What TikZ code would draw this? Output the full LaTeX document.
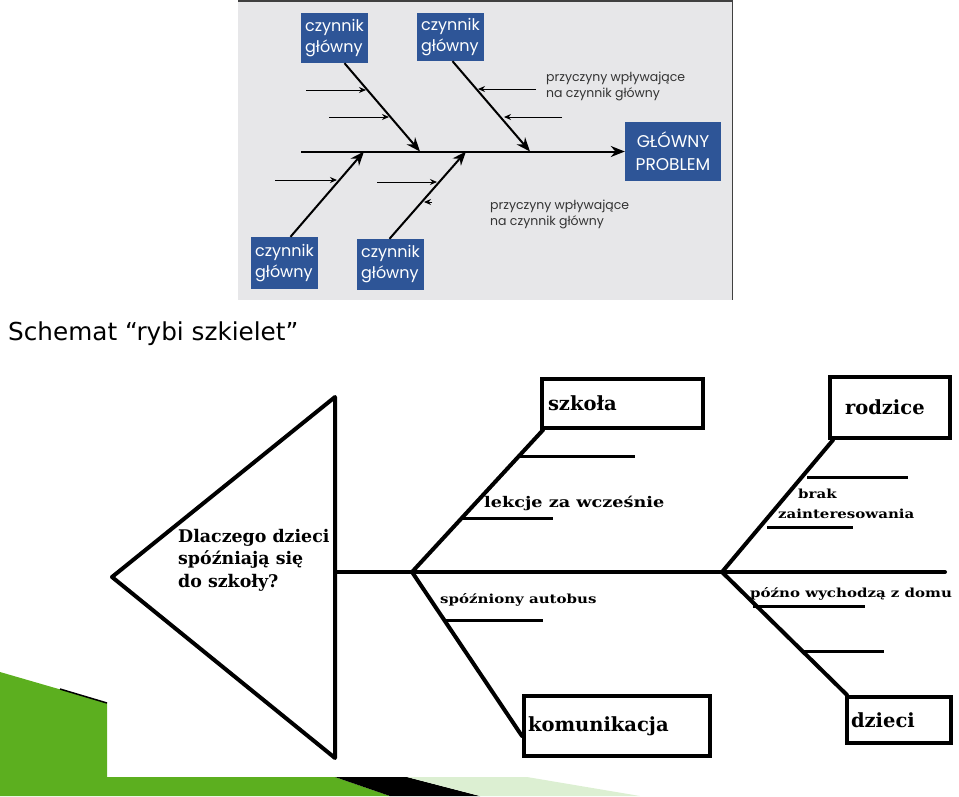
\documentclass[tikz,border=0pt]{standalone}
\usepackage{fontspec}
\newfontfamily\slabfont{DejaVu Serif}
\newfontfamily\wideslab[FakeStretch=1.2]{DejaVu Serif}
\newfontfamily\geofont{Poppins}
\newfontfamily\titlefont{DejaVu Sans}
\usetikzlibrary{arrows.meta}
\definecolor{boxblue}{HTML}{2E5597}
\definecolor{panelgray}{HTML}{E7E7E9}
\definecolor{slidegreen}{HTML}{5CAF1F}
\definecolor{palegreen}{HTML}{DCEFD2}

\begin{document}
\begin{tikzpicture}[x=1pt,y=-1pt]

\tikzstyle{BLUE} = [rectangle, fill=boxblue, text=white, inner sep=0pt, align=left, font=\geofont\fontsize{16}{21}\selectfont]
\tikzstyle{NOTE} = [inner sep=0pt, anchor=north west, align=left, text=black!80, font=\geofont\fontsize{12.5}{15.5}\selectfont]
\tikzstyle{CAUSE} = [rectangle, draw=black, line width=4pt, inner xsep=6pt, align=left, font=\slabfont\bfseries\fontsize{19.5}{22}\selectfont]
\tikzstyle{LABEL} = [inner sep=0pt, anchor=base west, align=left, font=\wideslab\bfseries\fontsize{12.5}{20}\selectfont]
\tikzstyle{arrow} = [line width=2pt, -{Stealth[length=14pt,width=11pt]}]
\tikzstyle{small arrow} = [line width=1pt, -{Stealth[length=7pt,width=6pt]}]
\tikzstyle{bone} = [line width=4pt, line cap=round]
\tikzstyle{twig} = [line width=3pt]

\useasboundingbox (0,0) rectangle (959,796);

\fill[slidegreen] (0,672) -- (107,703) -- (107,777) -- (335,777) -- (390,796) -- (0,796) -- cycle;
\draw[line width=1.5pt] (60,689) -- (107,703);
\fill[black] (335,777) -- (407,777) -- (480,796) -- (390,796) -- cycle;
\fill[palegreen] (407,777) -- (527,777) -- (640,796) -- (480,796) -- cycle;

\fill[panelgray] (238,0) rectangle (733,300);
\draw[black!75, line width=1.5pt] (238,0.75) -- (732.25,0.75) -- (732.25,300);

\node (czyn1) [BLUE, minimum width=67pt, minimum height=50pt] at (334.5,38) {czynnik\\główny};
\node (czyn2) [BLUE, minimum width=67pt, minimum height=48pt] at (450.5,37) {czynnik\\główny};
\node (czyn3) [BLUE, minimum width=67pt, minimum height=52pt] at (284.5,263) {czynnik\\główny};
\node (czyn4) [BLUE, minimum width=67pt, minimum height=51pt] at (390.5,264.5) {czynnik\\główny};
\node (problem) [BLUE, align=center, minimum width=96pt, minimum height=59pt, font=\geofont\fontsize{17}{23}\selectfont] at (673,151.5) {GŁÓWNY\\PROBLEM};
\node (note1) [NOTE] at (546,72) {przyczyny wpływające\\na czynnik główny};
\node (note2) [NOTE] at (490,200) {przyczyny wpływające\\na czynnik główny};

\coordinate (tail) at (301,151.5);
\coordinate (j1) at (420,151.5);
\coordinate (j2) at (530,151.5);
\coordinate (j3) at (364,151.5);
\coordinate (j4) at (466,151.5);
\draw[arrow] (tail) -- (problem.west);
\draw[arrow] ([xshift=10pt]czyn1.south) -- (j1);
\draw[arrow] ([xshift=2pt]czyn2.south) -- (j2);
\draw[arrow] ([xshift=6pt]czyn3.north) -- (j3);
\draw[arrow] ([xshift=-1pt]czyn4.north) -- (j4);

\coordinate (a1) at (306,90);   \coordinate (b1) at (366,90);
\coordinate (a2) at (329,117);  \coordinate (b2) at (389,117);
\coordinate (a3) at (536,89);   \coordinate (b3) at (478,89);
\coordinate (a4) at (562,117);  \coordinate (b4) at (504,117);
\coordinate (a5) at (275,180);  \coordinate (b5) at (337,180);
\coordinate (a6) at (377,182);  \coordinate (b6) at (437,182);
\coordinate (a7) at (432,202);  \coordinate (b7) at (424,202);
\draw[small arrow] (a1) -- (b1);
\draw[small arrow] (a2) -- (b2);
\draw[small arrow] (a3) -- (b3);
\draw[small arrow] (a4) -- (b4);
\draw[small arrow] (a5) -- (b5);
\draw[small arrow] (a6) -- (b6);
\draw[small arrow] (a7) -- (b7);

\node (title) [anchor=base west, inner sep=0pt, font=\titlefont\fontsize{24.7}{28}\selectfont] at (8,340) {Schemat “rybi szkielet”};

\coordinate (tip) at (112,577);
\coordinate (top) at (335,397);
\coordinate (bot) at (335,758);
\draw[bone, line join=round] (tip) -- (top) -- (bot) -- cycle;
\node (question) [LABEL, anchor=north west, font=\slabfont\bfseries\fontsize{17.4}{22.5}\selectfont] at (178,529) {Dlaczego dzieci\\spóźniają się\\do szkoły?};

\node (szkola) [CAUSE, minimum width=161pt, minimum height=49pt, text width=149pt] at (622.5,403.5) {szkoła};
\node (rodzice) [CAUSE, minimum width=120pt, minimum height=61pt, text width=90pt, inner xsep=15pt] at (890,407.5) {rodzice};
\node (komunikacja) [CAUSE, minimum width=186pt, minimum height=60pt, text width=178pt, inner xsep=4pt] at (617,726) {komunikacja};
\node (dzieci) [CAUSE, minimum width=104pt, minimum height=46pt, text width=96pt, inner xsep=4pt] at (899,720) {dzieci};

\coordinate (neck) at (335,572);
\coordinate (j5) at (412,572);
\coordinate (j6) at (722,572);
\coordinate (head) at (945,572);
\draw[bone] (neck) -- (head);
\draw[bone] (j5) -- ([xshift=3pt]szkola.south west);
\draw[bone] (j5) -- ([yshift=-10pt]komunikacja.west);
\draw[bone] (j6) -- ([xshift=5pt]rodzice.south west);
\draw[bone] (j6) -- ([xshift=2pt]dzieci.north west);

\coordinate (t1a) at (519,456);  \coordinate (t1b) at (635,456);
\coordinate (t2a) at (462,518);  \coordinate (t2b) at (553,518);
\coordinate (t3a) at (443,620);  \coordinate (t3b) at (543,620);
\coordinate (t4a) at (807,477);  \coordinate (t4b) at (908,477);
\coordinate (t5a) at (767,527);  \coordinate (t5b) at (853,527);
\coordinate (t6a) at (753,606);  \coordinate (t6b) at (865,606);
\coordinate (t7a) at (802,651);  \coordinate (t7b) at (884,651);
\draw[twig] (t1a) -- (t1b);
\draw[twig] (t2a) -- (t2b);
\draw[twig] (t3a) -- (t3b);
\draw[twig] (t4a) -- (t4b);
\draw[twig] (t5a) -- (t5b);
\draw[twig] (t6a) -- (t6b);
\draw[twig] (t7a) -- (t7b);

\node (lekcje) [LABEL, font=\wideslab\bfseries\fontsize{14.7}{20}\selectfont] at (484,507) {lekcje za wcześnie};
\node (autobus) [LABEL] at (440,603) {spóźniony autobus};
\node (brak) [LABEL] at (798,498) {brak};
\node (zaint) [LABEL] at (778,518) {zainteresowania};
\node (pozno) [LABEL] at (750,597) {późno wychodzą z domu};

\end{tikzpicture}
\end{document}
